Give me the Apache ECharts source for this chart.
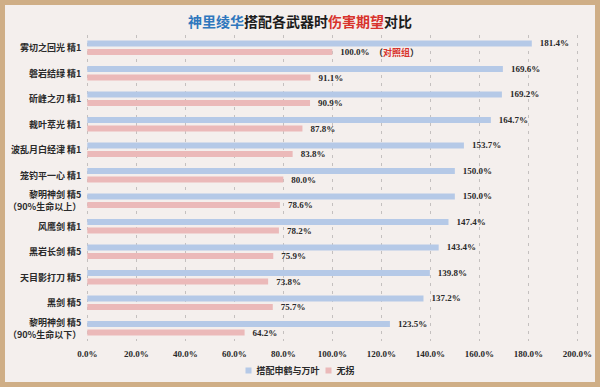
<!DOCTYPE html>
<html>
<head>
<meta charset="utf-8">
<script src="https://cdn.jsdelivr.net/npm/echarts@6/dist/echarts.min.js"></script>
<style>
  html, body { margin: 0; padding: 0; background: #cfae86; }
  #chart { position: absolute; left: 5px; top: 5px; width: 590px; height: 377px; background: #f4efed; }
</style>
</head>
<body>
<div id="chart"></div>
<script>
var weapons = [
  '雾切之回光 精1', '磐岩结绿 精1', '斫峰之刃 精1', '裁叶萃光 精1', '波乱月白经津 精1',
  '笼钓平一心 精1', '黎明神剑 精5\n（90%生命以上）', '风鹰剑 精1', '黑岩长剑 精5',
  '天目影打刀 精5', '黑剑 精5', '黎明神剑 精5\n（90%生命以下）'
];
var withSupport = [181.4, 169.6, 169.2, 164.7, 153.7, 150.0, 150.0, 147.4, 143.4, 139.8, 137.2, 123.5];
var noSupport = [100.0, 91.1, 90.9, 87.8, 83.8, 80.0, 78.6, 78.2, 75.9, 73.8, 75.7, 64.2];
var seriesNames = ['搭配申鹤与万叶', '无拐'];

var blue = '#b5c9e7';
var pink = '#ebb9b9';
var ink = '#2a2a2a';
var serif = '"Liberation Serif", "DejaVu Serif", serif';
var cjk = '"Noto Sans CJK SC", sans-serif';

var chart = echarts.init(document.getElementById('chart'), null, { renderer: 'svg' });
chart.setOption({
  animation: false,
  title: {
    text: '{b|神里绫华}{k|搭配各武器时}{r|伤害期望}{k|对比}',
    left: 'center',
    top: 4,
    textStyle: {
      rich: {
        b: { color: '#2f77bd', fontSize: 14, fontWeight: 'bold', fontFamily: cjk },
        k: { color: '#1c1c1c', fontSize: 14, fontWeight: 'bold', fontFamily: cjk },
        r: { color: '#d8332c', fontSize: 14, fontWeight: 'bold', fontFamily: cjk }
      }
    }
  },
  legend: {
    data: seriesNames,
    bottom: 2,
    left: 'center',
    itemWidth: 6, itemHeight: 6,
    itemGap: 6,
    icon: 'rect',
    textStyle: { color: ink, fontSize: 9, fontWeight: 'bold', fontFamily: cjk }
  },
  grid: { left: 76, right: 15, top: 30, bottom: 41, containLabel: false },
  xAxis: {
    type: 'value',
    min: 0, max: 200, interval: 20,
    axisLine: { show: false },
    axisTick: { show: false },
    axisLabel: {
      formatter: function(v) { return v.toFixed(1) + '%'; },
      color: ink, fontSize: 9, fontWeight: 'bold', fontFamily: serif, margin: 8
    },
    splitLine: { lineStyle: { color: '#c4c0bf', type: [3, 5], width: 1 } }
  },
  yAxis: {
    type: 'category',
    data: weapons,
    inverse: true,
    axisLine: { show: false },
    axisTick: { show: false },
    axisLabel: {
      color: ink, fontSize: 9, fontWeight: 'bold', fontFamily: cjk,
      margin: 6, lineHeight: 12
    }
  },
  series: [
    {
      name: seriesNames[0],
      type: 'bar',
      data: withSupport,
      barWidth: 6,
      barGap: '45%',
      itemStyle: { color: blue },
      label: {
        show: true, position: 'right', distance: 8,
        formatter: function(p) { return p.value.toFixed(1) + '%'; },
        color: ink, fontSize: 9, fontWeight: 'bold', fontFamily: serif
      }
    },
    {
      name: seriesNames[1],
      type: 'bar',
      data: noSupport,
      barWidth: 6,
      itemStyle: { color: pink },
      label: {
        show: true, position: 'right', distance: 8,
        formatter: function(p) {
          var s = p.value.toFixed(1) + '%';
          return p.dataIndex === 0 ? s + '  {p|（}{c|对照组}{p|）}' : s;
        },
        color: ink, fontSize: 9, fontWeight: 'bold', fontFamily: serif,
        rich: {
          p: { color: ink, fontSize: 9, fontWeight: 'bold', fontFamily: cjk },
          c: { color: '#d8332c', fontSize: 9, fontWeight: 'bold', fontFamily: cjk }
        }
      }
    }
  ]
});
window.addEventListener('resize', function() { chart.resize(); });
</script>
</body>
</html>
